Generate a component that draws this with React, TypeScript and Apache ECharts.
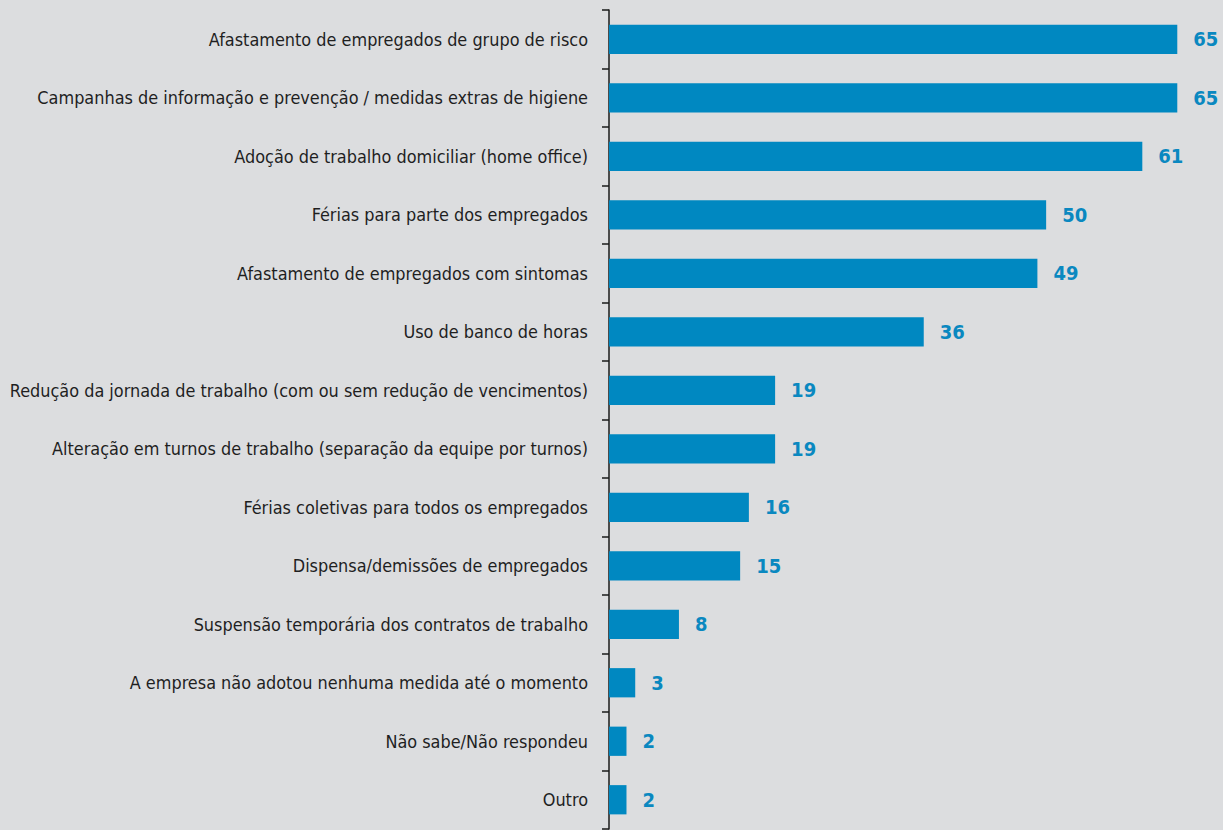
import React, { useEffect, useRef } from "react";
import * as echarts from "echarts";

const categories = [
  "Afastamento de empregados de grupo de risco",
  "Campanhas de informação e prevenção / medidas extras de higiene",
  "Adoção de trabalho domiciliar (home office)",
  "Férias para parte dos empregados",
  "Afastamento de empregados com sintomas",
  "Uso de banco de horas",
  "Redução da jornada de trabalho (com ou sem redução de vencimentos)",
  "Alteração em turnos de trabalho (separação da equipe por turnos)",
  "Férias coletivas para todos os empregados",
  "Dispensa/demissões de empregados",
  "Suspensão temporária dos contratos de trabalho",
  "A empresa não adotou nenhuma medida até o momento",
  "Não sabe/Não respondeu",
  "Outro",
];

const values = [65, 65, 61, 50, 49, 36, 19, 19, 16, 15, 8, 3, 2, 2];

export default function App() {
  const ref = useRef<HTMLDivElement>(null);
  useEffect(() => {
    const chart = echarts.init(ref.current!, null, { renderer: "svg" });
    chart.setOption({
      animation: false,
      backgroundColor: "#dcdddf",
      grid: { left: 609, top: 10, width: 612, height: 819, containLabel: false },
      xAxis: {
        type: "value",
        min: 0,
        max: 70,
        show: false,
      },
      yAxis: {
        type: "category",
        data: categories,
        inverse: true,
        axisLine: { show: true, lineStyle: { color: "#1a1a1a", width: 1.5 } },
        axisTick: { show: true, length: 7, lineStyle: { color: "#1a1a1a", width: 1.5 } },
        axisLabel: {
          color: "#1f1f1f",
          fontFamily: "DejaVu Sans Condensed",
          fontSize: 17.9,
          margin: 21,
        },
      },
      series: [
        {
          type: "bar",
          data: values,
          barWidth: "50%",
          itemStyle: { color: "#0088c1" },
          label: {
            show: true,
            position: "right",
            distance: 16,
            color: "#0a88c0",
            fontFamily: "DejaVu Sans Condensed",
            fontWeight: "bold",
            fontSize: 20,
          },
        },
      ],
    });
    return () => chart.dispose();
  }, []);
  return <div ref={ref} style={{ width: 1223, height: 830, position: "absolute", left: 0, top: 0 }} />;
}
